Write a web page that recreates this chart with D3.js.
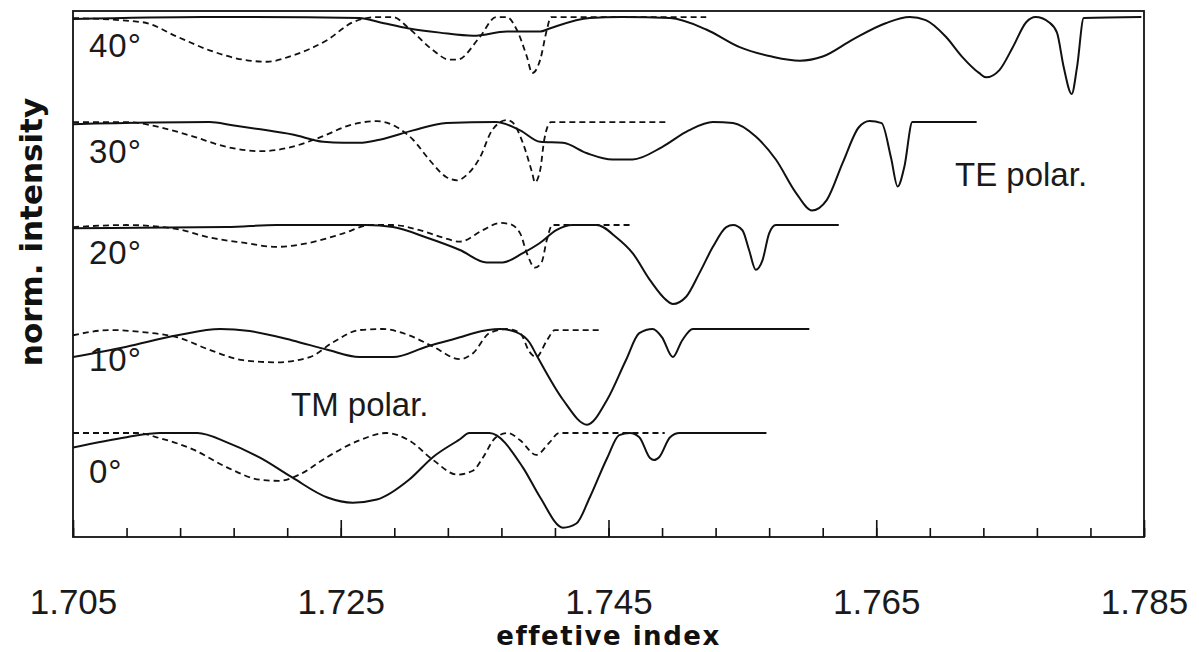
<!DOCTYPE html>
<html>
<head>
<meta charset="utf-8">
<script src="https://cdn.jsdelivr.net/npm/d3@7/dist/d3.min.js"></script>
<style>
  html, body { margin: 0; padding: 0; background: #fff; }
  svg { display: block; }
</style>
</head>
<body>
<script>
// polarisation angles, bottom row first
var angles = [0, 10, 20, 30, 40];
var majorTicks = [1.705, 1.725, 1.745, 1.765, 1.785];

// [effective index, normalised intensity]
var te0 = [[1.7050,0.86],[1.7090,0.96],[1.7115,1.00],[1.7143,1.00],[1.7165,0.91],[1.7190,0.76],[1.7214,0.57],[1.7240,0.38],[1.7259,0.33],[1.7277,0.36],[1.7301,0.55],[1.7319,0.77],[1.7339,0.94],[1.7346,1.00],[1.7361,1.00],[1.7386,0.67],[1.7399,0.38],[1.7416,0.09],[1.7426,0.13],[1.7436,0.38],[1.7449,0.76],[1.7458,0.98],[1.7466,1.00],[1.7473,0.96],[1.7481,0.76],[1.7484,0.74],[1.7488,0.77],[1.7496,0.96],[1.7503,1.00],[1.7568,1.00]];
var tm0 = [[1.7050,1.00],[1.7098,1.00],[1.7115,0.95],[1.7140,0.84],[1.7165,0.67],[1.7190,0.55],[1.7204,0.54],[1.7219,0.60],[1.7240,0.77],[1.7264,0.93],[1.7284,1.00],[1.7301,0.93],[1.7319,0.74],[1.7337,0.60],[1.7349,0.64],[1.7356,0.76],[1.7366,0.96],[1.7375,1.00],[1.7384,0.93],[1.7396,0.79],[1.7406,0.91],[1.7413,1.00],[1.7492,1.00]];

var te10 = [[1.7050,0.73],[1.7090,0.83],[1.7128,0.94],[1.7160,1.00],[1.7182,0.98],[1.7214,0.89],[1.7240,0.80],[1.7264,0.73],[1.7289,0.73],[1.7314,0.83],[1.7339,0.92],[1.7349,0.96],[1.7369,1.00],[1.7381,0.97],[1.7391,0.87],[1.7397,0.73],[1.7416,0.32],[1.7434,0.08],[1.7449,0.32],[1.7463,0.70],[1.7473,0.96],[1.7483,1.00],[1.7490,0.92],[1.7498,0.73],[1.7505,0.89],[1.7513,1.00],[1.7600,1.00]];
var tm10 = [[1.7050,0.94],[1.7078,0.99],[1.7102,0.97],[1.7128,0.92],[1.7152,0.80],[1.7177,0.70],[1.7202,0.68],[1.7227,0.73],[1.7244,0.87],[1.7264,0.99],[1.7281,1.00],[1.7301,0.94],[1.7319,0.83],[1.7339,0.71],[1.7349,0.77],[1.7361,0.96],[1.7374,1.00],[1.7384,0.96],[1.7391,0.78],[1.7396,0.73],[1.7404,0.89],[1.7410,0.99],[1.7443,0.99]];

var te20 = [[1.7050,0.97],[1.7165,0.98],[1.7202,1.00],[1.7249,1.00],[1.7269,1.00],[1.7289,0.98],[1.7314,0.88],[1.7339,0.76],[1.7359,0.64],[1.7371,0.64],[1.7386,0.73],[1.7399,0.83],[1.7411,0.95],[1.7423,1.00],[1.7441,1.00],[1.7456,0.88],[1.7468,0.73],[1.7481,0.47],[1.7493,0.28],[1.7498,0.24],[1.7508,0.31],[1.7518,0.54],[1.7528,0.79],[1.7538,0.98],[1.7543,1.00],[1.7550,0.95],[1.7555,0.76],[1.7560,0.57],[1.7565,0.66],[1.7570,0.92],[1.7575,1.00],[1.7622,1.00]];
var tm20 = [[1.7050,0.98],[1.7090,1.00],[1.7128,0.96],[1.7152,0.88],[1.7177,0.83],[1.7202,0.79],[1.7227,0.83],[1.7252,0.92],[1.7272,1.00],[1.7289,1.00],[1.7309,0.95],[1.7326,0.88],[1.7339,0.84],[1.7356,0.95],[1.7369,1.02],[1.7376,1.01],[1.7384,0.92],[1.7389,0.73],[1.7395,0.59],[1.7400,0.64],[1.7404,0.86],[1.7408,1.00],[1.7468,1.00]];

var te30 = [[1.7050,0.97],[1.7152,0.99],[1.7169,0.96],[1.7190,0.92],[1.7214,0.87],[1.7237,0.80],[1.7252,0.79],[1.7264,0.79],[1.7279,0.82],[1.7304,0.91],[1.7329,0.98],[1.7366,0.99],[1.7384,0.91],[1.7399,0.80],[1.7416,0.79],[1.7434,0.69],[1.7453,0.63],[1.7468,0.63],[1.7490,0.75],[1.7510,0.91],[1.7528,0.99],[1.7543,0.98],[1.7560,0.85],[1.7575,0.63],[1.7590,0.31],[1.7602,0.14],[1.7613,0.24],[1.7625,0.60],[1.7637,0.94],[1.7645,1.00],[1.7654,0.98],[1.7661,0.65],[1.7666,0.37],[1.7671,0.56],[1.7677,0.99],[1.7725,0.99]];
var tm30 = [[1.7050,0.99],[1.7090,0.99],[1.7115,0.94],[1.7140,0.85],[1.7165,0.75],[1.7190,0.71],[1.7210,0.74],[1.7234,0.84],[1.7257,0.96],[1.7277,1.00],[1.7292,0.94],[1.7304,0.82],[1.7316,0.63],[1.7329,0.46],[1.7337,0.43],[1.7344,0.48],[1.7354,0.65],[1.7363,0.91],[1.7374,1.01],[1.7378,0.99],[1.7386,0.79],[1.7393,0.50],[1.7395,0.41],[1.7399,0.53],[1.7402,0.82],[1.7407,0.99],[1.7493,0.99]];

var te40 = [[1.7050,0.98],[1.7147,1.00],[1.7182,1.00],[1.7264,0.99],[1.7279,0.95],[1.7301,0.89],[1.7324,0.85],[1.7349,0.82],[1.7374,0.86],[1.7399,0.86],[1.7406,0.89],[1.7436,0.99],[1.7460,1.00],[1.7496,0.99],[1.7523,0.88],[1.7548,0.71],[1.7572,0.62],[1.7593,0.58],[1.7610,0.62],[1.7632,0.78],[1.7657,0.94],[1.7675,1.00],[1.7687,0.97],[1.7702,0.81],[1.7714,0.62],[1.7727,0.46],[1.7732,0.42],[1.7742,0.49],[1.7752,0.71],[1.7762,0.95],[1.7769,1.00],[1.7779,0.95],[1.7785,0.85],[1.7790,0.52],[1.7796,0.26],[1.7800,0.52],[1.7805,0.99],[1.7848,1.00]];
var tm40 = [[1.7050,0.99],[1.7102,0.95],[1.7128,0.81],[1.7152,0.68],[1.7177,0.59],[1.7195,0.57],[1.7214,0.63],[1.7240,0.78],[1.7259,0.95],[1.7277,1.00],[1.7289,1.00],[1.7301,0.89],[1.7319,0.68],[1.7331,0.59],[1.7337,0.59],[1.7354,0.81],[1.7366,1.00],[1.7374,1.00],[1.7381,0.89],[1.7389,0.62],[1.7393,0.46],[1.7399,0.59],[1.7404,0.88],[1.7407,1.00],[1.7523,1.00]];

var teSeries = [te0, te10, te20, te30, te40];
var tmSeries = [tm0, tm10, tm20, tm30, tm40];

;(function() {
    var W = 1199, H = 652;
    var plot = {left: 73, right: 1144, top: 11, bottom: 537};
    var tickFont = '"Liberation Sans", Arial, Helvetica, sans-serif';
    var titleFont = '"DejaVu Sans", Verdana, sans-serif';

    var svg = d3.select('body').append('svg')
        .attr('width', W)
        .attr('height', H);

    var x = d3.scaleLinear().domain([1.705, 1.785]).range([plot.left, plot.right]);
    // each row is shifted up by one unit of normalised intensity
    var y = d3.scaleLinear().domain([0, 5.058]).range([plot.bottom, plot.top]);

    svg.append('clipPath').attr('id', 'plot-clip')
        .append('rect')
        .attr('x', plot.left).attr('y', plot.top)
        .attr('width', plot.right - plot.left)
        .attr('height', plot.bottom - plot.top);

    /**
     * Line generator for one row.
     * @param {number} row  The row index, 0 for the bottom one
     */
    function rowLine(row) {
        return d3.line()
            .x(function(d) { return x(d[0]); })
            .y(function(d) { return y(row + d[1]); })
            .curve(d3.curveMonotoneX);
    }

    var traces = svg.append('g').attr('clip-path', 'url(#plot-clip)');

    angles.forEach(function(a, i) {
        traces.append('path')
            .datum(tmSeries[i])
            .attr('d', rowLine(i))
            .style('fill', 'none')
            .style('stroke', '#111')
            .style('stroke-width', 1.8)
            .style('stroke-dasharray', '6,4');

        traces.append('path')
            .datum(teSeries[i])
            .attr('d', rowLine(i))
            .style('fill', 'none')
            .style('stroke', '#111')
            .style('stroke-width', 2);
    });

    // frame
    svg.append('rect')
        .attr('x', plot.left).attr('y', plot.top)
        .attr('width', plot.right - plot.left)
        .attr('height', plot.bottom - plot.top)
        .style('fill', 'none')
        .style('stroke', '#111')
        .style('stroke-width', 1.8);

    // minor ticks every 0.004, pointing inside
    var minorAxis = d3.axisBottom(x)
        .tickValues(d3.range(0, 21).map(function(i) { return 1.705 + i * 0.004; }))
        .tickSize(-9)
        .tickFormat('');

    var majorAxis = d3.axisBottom(x)
        .tickValues(majorTicks)
        .tickSize(-17)
        .tickPadding(52)
        .tickFormat(d3.format('.3f'));

    [minorAxis, majorAxis].forEach(function(ax) {
        var g = svg.append('g')
            .attr('transform', 'translate(0,' + plot.bottom + ')')
            .call(ax);
        g.select('.domain').remove();
        g.selectAll('.tick line').style('stroke', '#111').style('stroke-width', 1.6);
        g.selectAll('.tick text')
            .style('font-family', tickFont)
            .style('font-size', '35px')
            .style('fill', '#1a1a1a');
    });

    // angle labels
    var labelBaseline = [483, 371, 264, 163, 57];
    svg.selectAll('text.angle')
        .data(angles)
        .enter().append('text')
        .attr('class', 'angle')
        .attr('x', 89)
        .attr('y', function(d, i) { return labelBaseline[i]; })
        .style('font-family', tickFont)
        .style('font-size', '33px')
        .style('letter-spacing', '1px')
        .style('fill', '#1a1a1a')
        .text(function(d) { return d + '\u00b0'; });

    svg.append('text')
        .attr('x', 291).attr('y', 416)
        .style('font-family', tickFont)
        .style('font-size', '33px')
        .style('fill', '#1a1a1a')
        .text('TM polar.');

    svg.append('text')
        .attr('x', 955).attr('y', 186)
        .style('font-family', tickFont)
        .style('font-size', '33px')
        .style('fill', '#1a1a1a')
        .text('TE polar.');

    // axis titles
    svg.append('text')
        .attr('x', (plot.left + plot.right) / 2)
        .attr('y', 645)
        .attr('text-anchor', 'middle')
        .style('font-family', titleFont)
        .style('font-weight', 'bold')
        .style('font-size', '26px')
        .style('letter-spacing', '1.5px')
        .style('fill', '#111')
        .text('effetive index');

    svg.append('text')
        .attr('transform', 'translate(42,232) rotate(-90)')
        .attr('text-anchor', 'middle')
        .style('font-family', titleFont)
        .style('font-weight', 'bold')
        .style('font-size', '31px')
        .style('fill', '#111')
        .text('norm. intensity');
})();
</script>
</body>
</html>
